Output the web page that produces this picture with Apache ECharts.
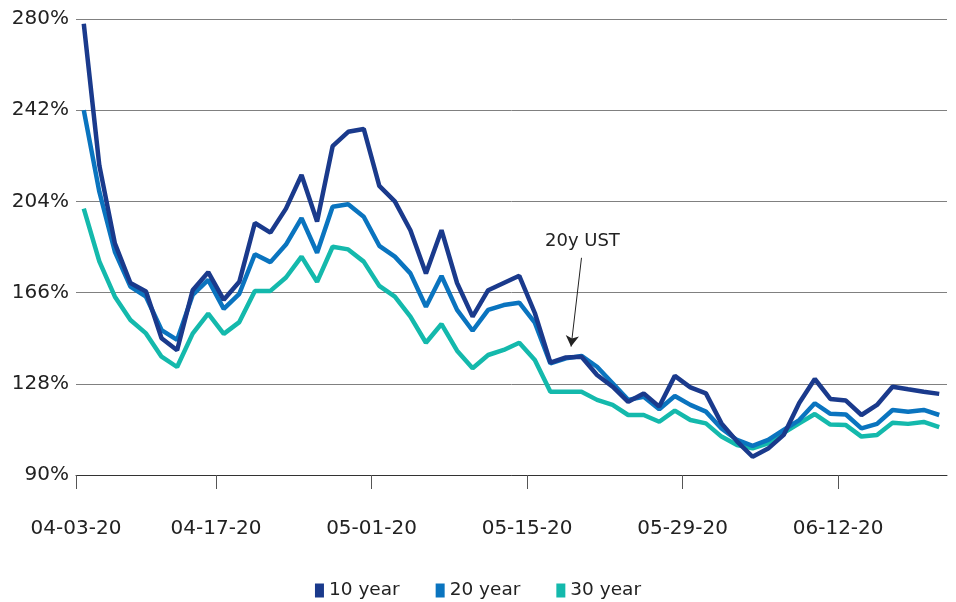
<!DOCTYPE html>
<html>
<head>
<meta charset="utf-8">
<script src="https://cdn.jsdelivr.net/npm/echarts@6/dist/echarts.min.js"></script>
<style>
  html, body { margin: 0; padding: 0; background: #fff; }
  #main { width: 956px; height: 602px; }
</style>
</head>
<body>
<div id="main"></div>
<script>
var myChart = echarts.init(document.getElementById('main'));

// trading days, one per band
const dates = [
    '04-03-20', '04-06-20', '04-07-20', '04-08-20', '04-09-20',
    '04-13-20', '04-14-20', '04-15-20', '04-16-20', '04-17-20',
    '04-20-20', '04-21-20', '04-22-20', '04-23-20', '04-24-20',
    '04-27-20', '04-28-20', '04-29-20', '04-30-20', '05-01-20',
    '05-04-20', '05-05-20', '05-06-20', '05-07-20', '05-08-20',
    '05-11-20', '05-12-20', '05-13-20', '05-14-20', '05-15-20',
    '05-18-20', '05-19-20', '05-20-20', '05-21-20', '05-22-20',
    '05-25-20', '05-26-20', '05-27-20', '05-28-20', '05-29-20',
    '06-01-20', '06-02-20', '06-03-20', '06-04-20', '06-05-20',
    '06-08-20', '06-09-20', '06-10-20', '06-11-20', '06-12-20',
    '06-15-20', '06-16-20', '06-17-20', '06-18-20', '06-19-20',
    '06-22-20'
];

// dates that get a tick + label
const tickDates = ['04-03-20', '04-17-20', '05-01-20', '05-15-20', '05-29-20', '06-12-20'];

const y10 = [
    278, 219, 186.5, 170, 166.5, 147, 142, 167, 174.5, 163,
    170.5, 195, 191, 201, 215, 195.6, 227, 233, 234.2, 210.5,
    204, 192, 174, 192, 170, 156, 167, 170, 173, 157.5,
    136.8, 139, 139.3, 131.7, 126.8, 120.5, 124, 118.5, 131.3, 126.5,
    124, 111.5, 104, 97.6, 101, 106.7, 120, 130, 121.7, 121,
    115, 119.2, 126.8, 125.7, 124.7, 123.8
];
const y20 = [
    242, 208, 183, 168.5, 164.3, 150.4, 146.3, 165, 171.3, 159.2,
    165.5, 182, 178.7, 186, 197, 182.6, 201.8, 202.8, 197.6, 185.5,
    181, 174, 160.1, 172.9, 158.8, 150.1, 158.8, 160.8, 161.8, 153.5,
    136.5, 138.6, 139.6, 135.1, 128.2, 121.3, 122.6, 117.4, 122.9, 119.2,
    116.4, 109.4, 104.6, 102.1, 104.6, 108.8, 112.9, 119.9, 115.5, 115.2,
    109.4, 111.3, 117.1, 116.4, 117.1, 115
];
const y30 = [
    201, 179, 164.3, 154.6, 149, 139.3, 135, 148.9, 157.2, 148.8,
    153.7, 166.7, 166.7, 172.3, 181, 170.5, 185.1, 184, 178.9, 168.8,
    164.3, 156, 145.1, 152.9, 141.8, 134.5, 140, 142.1, 145.1, 137.9,
    124.7, 124.7, 124.7, 121.3, 119.2, 115, 115, 112.2, 116.8, 112.9,
    111.5, 106, 102.5, 101.1, 103.2, 107.6, 111.5, 115.4, 111, 110.8,
    106, 106.7, 111.8, 111.3, 112.1, 109.9
];

const colorMap = {
    '10 year': '#1a3a8c',
    '20 year': '#0a74bf',
    '30 year': '#14b9ac'
};

// x is the trading-day index; ticks sit on the left edge of a day's band
const pairs = (vals) => vals.map((v, i) => [i, v]);
const tickPos = tickDates.map(d => dates.indexOf(d) - 0.5);

const fontFamily = '"DejaVu Sans", Verdana, sans-serif';

function lineSeries(name, vals, z) {
    return {
        name: name,
        type: 'line',
        data: pairs(vals),
        symbol: 'none',
        z: z,
        lineStyle: {width: 4.5, color: colorMap[name]},
        itemStyle: {color: colorMap[name]},
        animation: false
    };
}

let option = {
    textStyle: {fontFamily: fontFamily},
    grid: {left: 76, right: 9, top: 19, bottom: 127, outerBoundsMode: 'none'},
    legend: {
        top: 576,
        left: 'center',
        icon: 'rect',
        itemWidth: 9,
        itemHeight: 14,
        itemGap: 36,
        textStyle: {fontSize: 18.5, color: '#222', fontFamily: fontFamily},
        data: ['10 year', '20 year', '30 year']
    },
    xAxis: {
        type: 'value',
        min: -0.5,
        max: dates.length - 0.5,
        axisLine: {lineStyle: {color: '#333', width: 1}},
        axisTick: {show: true, length: 14, customValues: tickPos, lineStyle: {color: '#555'}},
        axisLabel: {
            customValues: tickPos,
            margin: 44,
            fontSize: 20,
            color: '#222',
            formatter: (v) => dates[Math.round(v + 0.5)]
        },
        splitLine: {show: false}
    },
    yAxis: {
        type: 'value',
        min: 90,
        max: 280,
        interval: 38,
        axisLine: {show: false},
        axisTick: {show: false},
        axisLabel: {formatter: '{value}%', fontSize: 20, color: '#222', margin: 7},
        splitLine: {lineStyle: {color: '#808080', width: 1}}
    },
    series: [
        lineSeries('10 year', y10, 4),
        Object.assign(lineSeries('20 year', y20, 3), {
            markLine: {
                silent: true,
                animation: false,
                symbol: ['none', 'arrow'],
                symbolSize: [10, 11],
                lineStyle: {color: '#222', width: 1, type: 'solid'},
                label: {
                    show: true,
                    position: 'start',
                    distance: 8,
                    formatter: '20y UST',
                    fontSize: 18,
                    color: '#222',
                    fontFamily: fontFamily
                },
                data: [[{coord: [32, 180.5]}, {coord: [31.33, 143.5]}]]
            }
        }),
        lineSeries('30 year', y30, 2)
    ]
};

myChart.setOption(option);
</script>
</body>
</html>
